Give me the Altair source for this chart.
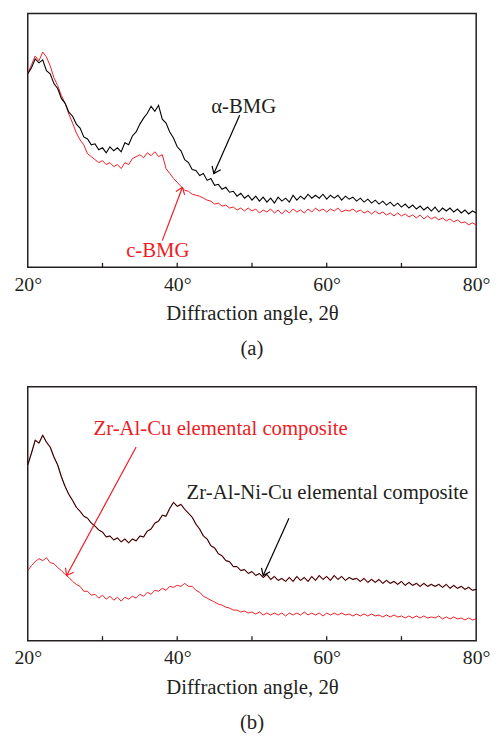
import math
import altair as alt
import pandas as pd

# ---------------- data (arbitrary intensity units) ----------------
two_theta = [20 + 0.5 * i for i in range(121)]  # 20.0, 20.5, ... 80.0

# Panel (a)
a_black = [196, 202, 211, 207, 210, 199, 196, 186, 181, 171,
           166, 157, 153, 145, 141, 132, 130, 124, 125, 119,
           121, 116, 122, 118, 121, 117, 126, 124, 133, 137,
           145, 151, 156, 163, 158, 164, 150, 146, 137, 131,
           122, 118, 109, 106, 99, 98, 93, 95, 88, 90,
           83, 84, 79, 81, 76, 77, 72, 75, 70, 73,
           68, 72, 67, 71, 66, 70, 65, 71, 67, 70,
           66, 73, 68, 72, 69, 74, 70, 73, 70, 74,
           69, 73, 70, 73, 68, 72, 69, 71, 67, 70,
           66, 69, 65, 68, 64, 67, 63, 66, 62, 65,
           61, 64, 60, 63, 59, 62, 58, 61, 57, 61,
           56, 60, 57, 60, 56, 59, 55, 58, 54, 57, 55]
a_red = [196, 205, 214, 209, 218, 213, 204, 192, 184, 174,
         166, 155, 146, 136, 129, 124, 115, 112, 109, 106,
         108, 104, 106, 102, 104, 100, 106, 104, 110, 112,
         114, 111, 116, 113, 117, 112, 114, 100, 95, 90,
         86, 82, 78, 77, 74, 73, 72, 70, 68, 67,
         64, 65, 62, 63, 60, 61, 58, 60, 57, 60,
         57, 59, 55, 58, 56, 59, 55, 58, 54, 58,
         55, 59, 56, 58, 55, 59, 56, 60, 57, 59,
         56, 59, 57, 60, 56, 58, 57, 59, 56, 58,
         55, 57, 54, 57, 54, 56, 53, 55, 52, 55,
         52, 54, 51, 53, 50, 53, 49, 52, 49, 51,
         48, 50, 47, 49, 46, 48, 45, 46, 43, 45, 43]

# Panel (b)
b_black = [178, 190, 203, 200, 208, 201, 196, 186, 178, 166,
           156, 148, 142, 135, 131, 126, 124, 119, 116, 112,
           110, 105, 106, 102, 104, 100, 103, 99, 103, 101,
           106, 105, 111, 113, 119, 121, 127, 126, 134, 140,
           136, 138, 133, 129, 125, 118, 113, 106, 103, 96,
           94, 88, 86, 81, 80, 75, 75, 71, 72, 68,
           70, 66, 68, 64, 67, 62, 65, 61, 63, 60,
           64, 60, 65, 61, 64, 60, 65, 61, 66, 62,
           65, 61, 66, 62, 65, 61, 64, 62, 63, 60,
           63, 59, 62, 59, 62, 58, 61, 58, 60, 57,
           60, 56, 59, 56, 58, 55, 58, 55, 57, 55,
           57, 54, 57, 53, 56, 53, 55, 52, 54, 51, 52]
b_red = [71, 76, 80, 83, 81, 84, 79, 78, 74, 71,
         67, 64, 60, 57, 55, 50, 50, 46, 47, 43,
         46, 42, 45, 41, 44, 40, 44, 42, 45, 43,
         47, 45, 49, 47, 51, 50, 53, 51, 55, 54,
         56, 55, 58, 55, 55, 51, 49, 45, 43, 41,
         39, 37, 36, 34, 33, 31, 31, 29, 30, 28,
         29, 27, 29, 26, 28, 26, 28, 26, 28, 25,
         28, 26, 28, 26, 29, 26, 28, 26, 28, 25,
         28, 26, 28, 26, 28, 26, 27, 25, 27, 25,
         27, 25, 27, 25, 26, 24, 26, 24, 26, 24,
         25, 23, 25, 23, 25, 23, 25, 23, 24, 23,
         25, 22, 24, 22, 24, 22, 23, 21, 23, 21, 22]

minor_ticks = [30, 40, 50, 60, 70]
label_ticks = [20, 40, 60, 80]

# annotations (data coordinates)
a_text = ["α-BMG", "c-BMG"]
a_text_x = [48.9, 37.4]
a_text_y = [162, 16]
a_arrow_x = [48.35, 38.0]
a_arrow_y = [154, 27]
a_arrow_x2 = [44.9, 40.7]
a_arrow_y2 = [95, 81]

b_text = ["Zr-Al-Cu elemental composite", "Zr-Al-Ni-Cu elemental composite"]
b_text_x = [45.8, 60.1]
b_text_y = [214, 149]
b_arrow_x = [34.5, 54.95]
b_arrow_y = [196, 124]
b_arrow_x2 = [25.2, 51.5]
b_arrow_y2 = [66, 66]

# ---------------- style ----------------
W, H = 454, 257
FONT = "Liberation Serif"
INK = "#231f20"
RED = "#ee1c25"
FS = 21
FS_TICK = 20

xs = alt.Scale(domain=[20, 80], nice=False, zero=False)
ys = alt.Scale(domain=[0, H], nice=False, zero=True)

x_axis = alt.Axis(
    values=label_ticks,
    labelExpr="datum.value + '°'",
    ticks=False,
    tickSize=0,
    domain=False,
    grid=False,
    labelFont=FONT,
    labelFontSize=FS_TICK,
    labelColor=INK,
    labelPadding=7,
    labelFlush=False,
    title="Diffraction angle, 2θ",
    titleFont=FONT,
    titleFontSize=FS,
    titleFontWeight="normal",
    titleColor=INK,
    titlePadding=9,
)


def arrow_angles(x, y, x2, y2):
    out = []
    for a, b, c, d in zip(x, y, x2, y2):
        dx = (c - a) / 60 * W
        dy = -(d - b)  # pixel y grows downward
        out.append(math.degrees(math.atan2(dy, dx)) % 360)
    return out


def panel(series, texts, tx, ty, tcol, ax, ay, ax2, ay2, acol, caption):
    layers = []
    for vals, color, sw, op in series:
        df = pd.DataFrame({"t": two_theta, "i": vals})
        layers.append(
            alt.Chart(df).mark_line(color=color, strokeWidth=sw, opacity=op).encode(
                x=alt.X("t:Q", scale=xs, axis=x_axis),
                y=alt.Y("i:Q", scale=ys, axis=None),
            )
        )

    tdf = pd.DataFrame({"v": minor_ticks})
    layers.append(
        alt.Chart(tdf).mark_rule(color=INK, strokeWidth=1.3).encode(
            x=alt.X("v:Q", scale=xs, axis=x_axis),
            y=alt.value(H),
            y2=alt.value(H - 4.5),
        )
    )

    adf = pd.DataFrame({"x": ax, "y": ay, "x2": ax2, "y2": ay2, "c": acol,
                        "ang": arrow_angles(ax, ay, ax2, ay2)})
    layers.append(
        alt.Chart(adf).mark_rule(strokeWidth=1.2).encode(
            x=alt.X("x:Q", scale=xs, axis=x_axis),
            y=alt.Y("y:Q", scale=ys, axis=None),
            x2="x2:Q",
            y2="y2:Q",
            color=alt.Color("c:N", scale=None),
        )
    )
    layers.append(
        alt.Chart(adf).mark_point(
            shape="M -1 -0.75 L 0 0 L -1 0.75", filled=False, size=160, strokeWidth=1.2, opacity=1
        ).encode(
            x=alt.X("x2:Q", scale=xs, axis=x_axis),
            y=alt.Y("y2:Q", scale=ys, axis=None),
            angle=alt.Angle("ang:Q", scale=None),
            color=alt.Color("c:N", scale=None),
        )
    )

    txdf = pd.DataFrame({"x": tx, "y": ty, "s": texts, "c": tcol})
    layers.append(
        alt.Chart(txdf).mark_text(font=FONT, fontSize=FS, align="center", baseline="middle").encode(
            x=alt.X("x:Q", scale=xs, axis=x_axis),
            y=alt.Y("y:Q", scale=ys, axis=None),
            text="s:N",
            color=alt.Color("c:N", scale=None),
        )
    )

    cdf = pd.DataFrame({"s": [caption]})
    layers.append(
        alt.Chart(cdf).mark_text(font=FONT, fontSize=FS, align="center", baseline="middle", color=INK).encode(
            x=alt.value(W / 2),
            y=alt.value(H + 83),
            text="s:N",
        )
    )
    return alt.layer(*layers).properties(width=W, height=H)


pa = panel(
    [(a_red, RED, 1.0, 1), (a_black, "#000000", 1.1, 1)],
    a_text, a_text_x, a_text_y, [INK, RED],
    a_arrow_x, a_arrow_y, a_arrow_x2, a_arrow_y2, ["#000000", RED],
    "(a)",
)
pb = panel(
    [(b_red, RED, 1.0, 1), (b_black, RED, 1.4, 0.6), (b_black, "#000000", 1.0, 1)],
    b_text, b_text_x, b_text_y, [RED, INK],
    b_arrow_x, b_arrow_y, b_arrow_x2, b_arrow_y2, [RED, "#000000"],
    "(b)",
)

chart = (
    alt.vconcat(pa, pb, spacing=26)
    .properties(padding={"left": 5, "top": 0, "right": 0, "bottom": 0})
    .configure_view(stroke=INK, strokeWidth=1.5)
)

chart.save("out.html", embed_options={"renderer": "svg", "actions": False})
